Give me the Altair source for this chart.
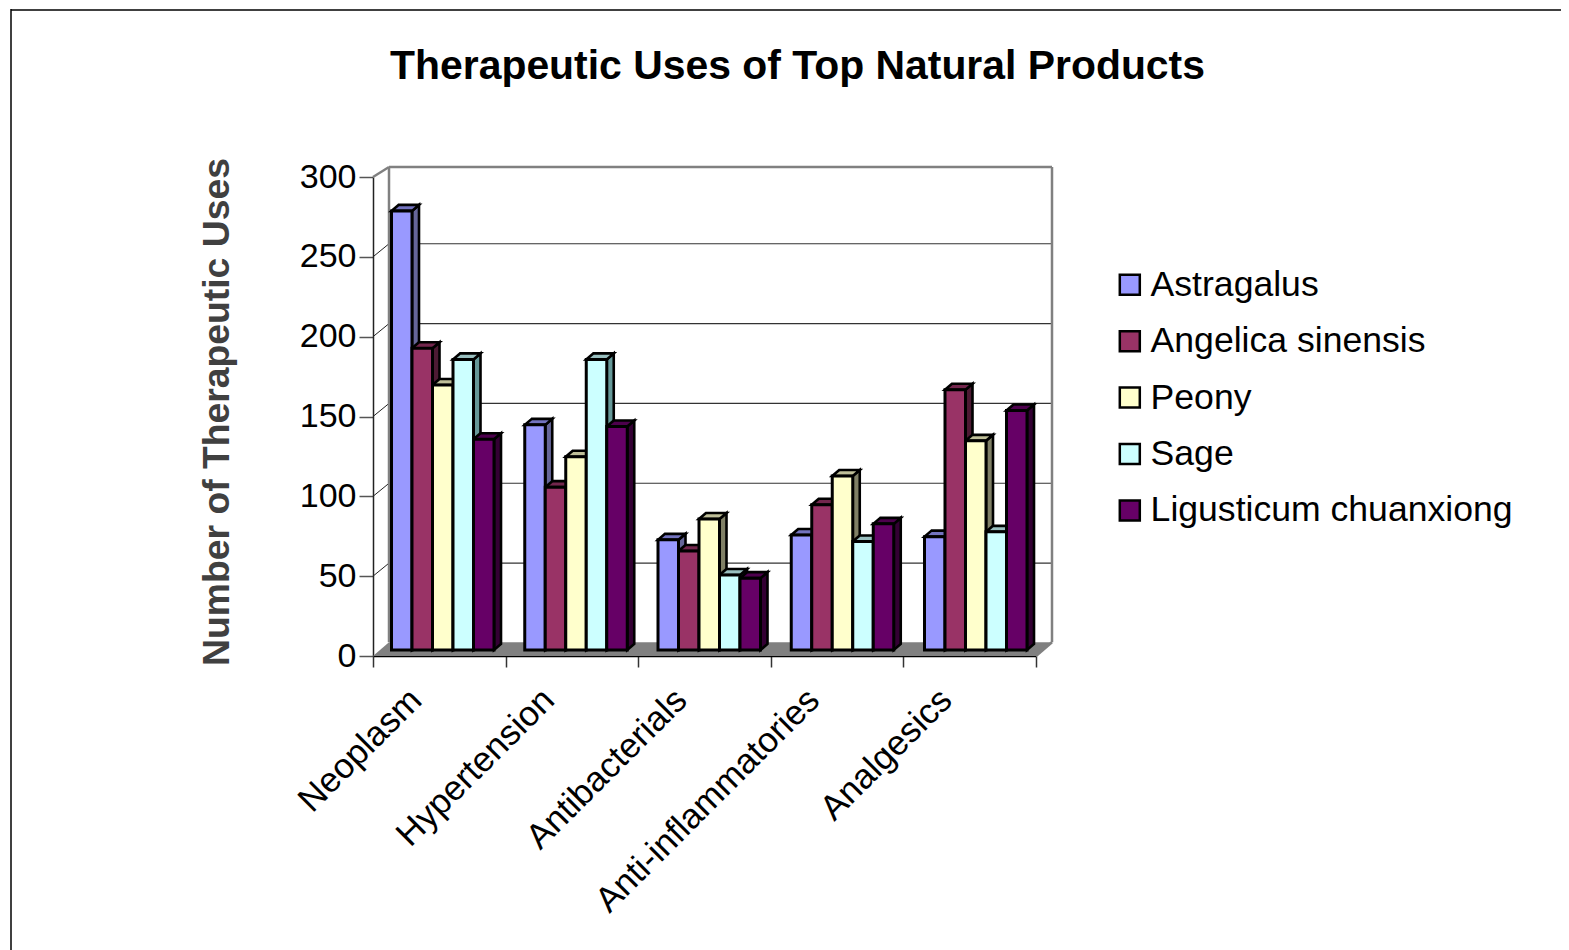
import altair as alt
import pandas as pd

TITLE = "Therapeutic Uses of Top Natural Products"
Y_TITLE = "Number of Therapeutic Uses"
categories = ["Neoplasm", "Hypertension", "Antibacterials", "Anti-inflammatories", "Analgesics"]
series = ["Astragalus", "Angelica sinensis", "Peony", "Sage", "Ligusticum chuanxiong"]
astragalus = [275, 141, 69, 72, 71]
angelica = [189, 102, 62, 91, 163]
peony = [166, 121, 82, 109, 131]
sage = [182, 182, 47, 68, 74]
ligusticum = [132, 140, 45, 79, 150]
values = [astragalus, angelica, peony, sage, ligusticum]
front_colors = ["#9999FF", "#993366", "#FFFFCC", "#CCFFFF", "#660066"]
top_colors = ["#7373BF", "#73264D", "#BFBF99", "#99BFBF", "#4D004D"]
side_colors = ["#666699", "#4D1A33", "#808066", "#669999", "#330033"]
y_ticks = [0, 50, 100, 150, 200, 250, 300]

PX_X = 132.6   # pixels per category
PX_Y = 479 / 300
GROUP_START = 18.5 / PX_X
GROUP_STEP = 133.25 / PX_X
BAR_W = 20.5 / PX_X
BASE = 6 / PX_Y
DX, DY = 7 / PX_X, 6 / PX_Y
WALL_X, WALL_Y = 16 / PX_X, 13.7 / PX_Y
FONT = "Liberation Sans"

fronts, tops, sides = [], [], []
for c, cat in enumerate(categories):
    for s, name in enumerate(series):
        l = c * GROUP_STEP + GROUP_START + s * BAR_W
        r = l + BAR_W
        v = values[s][c] + BASE
        bar = f"{c}-{s}"
        fronts.append(dict(series=name, l=l, r=r, v=v, b=BASE))
        tops += [
            dict(bar=bar, fill=top_colors[s], y=v, a=l, b=r),
            dict(bar=bar, fill=top_colors[s], y=v + DY, a=l + DX, b=r + DX),
        ]
        sides += [
            dict(bar=bar, fill=side_colors[s], x=r, y=v, y0=BASE),
            dict(bar=bar, fill=side_colors[s], x=r + DX, y=v + DY, y0=BASE + DY),
        ]

X = alt.Scale(domain=[0, 5], nice=False, zero=False)
Y = alt.Scale(domain=[0, 300], nice=False, zero=False)
x_tick_values = [i / 2 for i in range(11)]
label_lookup = "{" + ",".join(f"'{i}.5':'{n}'" for i, n in enumerate(categories)) + "}"

x_axis = alt.Axis(
    values=x_tick_values, title=None, grid=False,
    labelExpr=f"({label_lookup})[datum.value] || ''",
    labelAngle=315, labelAlign="right", labelBaseline="middle", labelFont=FONT, labelFontSize=35,
    labelColor="#000000", labelPadding=27, labelOffset=-24, labelOverlap=False, labelBound=False, labelFlush=False,
    labelLimit=600,
    tickSize=11, tickColor="#333333", tickWidth=1.5, tickOpacity=alt.expr("datum.value % 1 === 0 ? 1 : 0"),
    domainColor="#000000", domainWidth=1.5,
)
y_axis = alt.Axis(
    values=y_ticks, title=Y_TITLE, grid=False,
    titleFont=FONT, titleFontSize=37.3, titleFontWeight="bold", titleColor="#404040", titlePadding=63,
    titleY=234.5,
    labelFont=FONT, labelFontSize=34, labelColor="#000000", labelPadding=3, labelOverlap=False, labelBound=False, labelFlush=False,
    tickSize=14, tickColor="#555555", tickWidth=1.5, domainColor="#222222", domainWidth=1.5,
)

# Chart-box frame, which the reference crops at the right and bottom
frame_left = alt.Chart(pd.DataFrame({"k": [0]})).mark_rule(color="#000000", strokeWidth=1.5).encode(
    x=alt.value(-362), y=alt.value(-168), y2=alt.value(775))
frame_top = alt.Chart(pd.DataFrame({"k": [0]})).mark_rule(color="#000000", strokeWidth=1.5).encode(
    y=alt.value(-167), x=alt.value(-362), x2=alt.value(1197))

# Floor
floor = alt.Chart(pd.DataFrame([
    dict(y=0, a=0, b=5), dict(y=WALL_Y, a=WALL_X, b=5 + WALL_X)
])).mark_area(orient="horizontal", color="#808080").encode(
    y=alt.Y("y:Q", scale=Y, axis=y_axis),
    x=alt.X("a:Q", scale=X, axis=x_axis),
    x2="b:Q",
)

# Back wall gridlines and their connectors to the y axis
grid_vals = [50, 100, 150, 200, 250]
grid_df = pd.DataFrame({"v": grid_vals, "w": [v + WALL_Y - 0.4 for v in grid_vals], "x0": 0.0, "x1": WALL_X, "x2": 5 + WALL_X})
grid = alt.Chart(grid_df).mark_rule(color="#333333", strokeWidth=1.2).encode(
    x=alt.X("x1:Q", scale=X), x2="x2:Q", y=alt.Y("w:Q", scale=Y))
connect = alt.Chart(grid_df).mark_rule(color="#222222", strokeWidth=1).encode(
    x=alt.X("x0:Q", scale=X), x2="x1:Q", y=alt.Y("v:Q", scale=Y), y2="w:Q")

# Wall outline in grey
TOP_W = 300 + 10 / PX_Y
wall_df = pd.DataFrame([
    dict(x=0, x2=WALL_X, y=300, y2=TOP_W),
    dict(x=WALL_X, x2=5 + WALL_X, y=TOP_W, y2=TOP_W),
    dict(x=WALL_X, x2=WALL_X, y=WALL_Y, y2=TOP_W),
    dict(x=5 + WALL_X, x2=5 + WALL_X, y=WALL_Y, y2=TOP_W),
    dict(x=5, x2=5 + WALL_X, y=0, y2=WALL_Y),
])
walls = alt.Chart(wall_df).mark_rule(color="#808080", strokeWidth=2.5).encode(
    x=alt.X("x:Q", scale=X), x2="x2:Q", y=alt.Y("y:Q", scale=Y), y2="y2:Q")

side_layer = alt.Chart(pd.DataFrame(sides)).mark_area(
    orient="vertical", stroke="#000000", strokeWidth=2.6, strokeJoin="miter"
).encode(
    x=alt.X("x:Q", scale=X), y=alt.Y("y:Q", scale=Y), y2="y0:Q",
    color=alt.Color("fill:N", scale=None), detail="bar:N",
)
top_layer = alt.Chart(pd.DataFrame(tops)).mark_area(
    orient="horizontal", stroke="#000000", strokeWidth=2.6, strokeJoin="miter"
).encode(
    y=alt.Y("y:Q", scale=Y), x=alt.X("a:Q", scale=X), x2="b:Q",
    color=alt.Color("fill:N", scale=None), detail="bar:N",
)
front_layer = alt.Chart(pd.DataFrame(fronts)).mark_rect(stroke="#000000", strokeWidth=3).encode(
    x=alt.X("l:Q", scale=X), x2="r:Q",
    y=alt.Y("v:Q", scale=Y), y2="b:Q",
    fill=alt.Fill(
        "series:N",
        scale=alt.Scale(domain=series, range=front_colors),
        legend=alt.Legend(
            title=None, orient="none", legendX=739, legendY=90, direction="vertical",
            symbolType="square", symbolSize=400, symbolStrokeColor="#000000", symbolStrokeWidth=2.5,
            labelFont=FONT, labelFontSize=35.6, labelColor="#000000", labelOffset=3, rowPadding=19.4,
            labelLimit=500, symbolOpacity=1,
        ),
    ),
)

chart = alt.layer(
    frame_left, frame_top, floor, grid, connect, walls, side_layer, top_layer, front_layer
).properties(
    width=663, height=479,
    autosize="none",
    padding={"left": 365, "top": 169, "right": 525, "bottom": 294},
    title=alt.TitleParams(
        TITLE, font=FONT, fontSize=40.9, fontWeight="bold", color="#000000",
        anchor="middle", dx=93, offset=-80,
    ),
    background="#FFFFFF",
).configure_view(stroke=None)

chart.save("out.html", embed_options={"renderer": "svg", "actions": False})
